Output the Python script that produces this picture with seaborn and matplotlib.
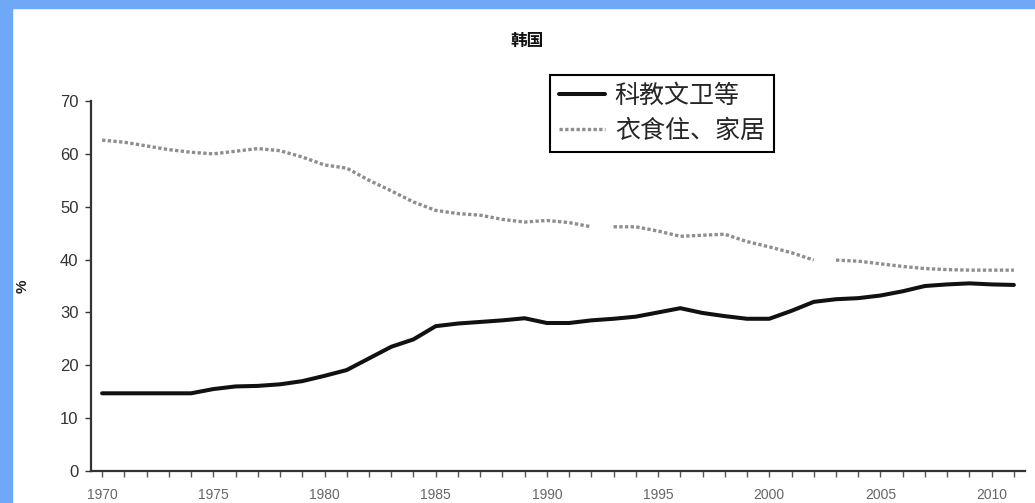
import matplotlib
matplotlib.use("Agg")
import matplotlib.pyplot as plt
from matplotlib.patches import Rectangle
import pandas as pd
import seaborn as sns

# Data
YEARS = list(range(1970, 2012))
SCI_EDU = [14.7, 14.7, 14.7, 14.7, 14.7, 15.5, 16.0, 16.1, 16.4, 17.0,
           18.0, 19.1, 21.3, 23.5, 24.9, 27.4, 27.9, 28.2, 28.5, 28.9,
           28.0, 28.0, 28.5, 28.8, 29.2, 30.0, 30.8, 29.9, 29.3, 28.8,
           28.8, 30.3, 32.0, 32.5, 32.7, 33.2, 34.0, 35.0, 35.3, 35.5,
           35.3, 35.2]
FOOD_HOME = [62.6, 62.2, 61.5, 60.8, 60.3, 60.0, 60.5, 61.0, 60.6, 59.4,
             57.9, 57.3, 55.0, 53.0, 50.9, 49.3, 48.7, 48.4, 47.6, 47.1,
             47.4, 47.0, 46.2, 46.2, 46.2, 45.4, 44.4, 44.6, 44.8, 43.4,
             42.4, 41.3, 39.9, 39.9, 39.7, 39.2, 38.7, 38.3, 38.1, 38.0,
             38.0, 38.0]
# the grey series is drawn broken between these years and the next one
FOOD_BREAKS = [1992, 2002]

LABEL_SCI = "科教文卫等"
LABEL_FOOD = "衣食住、家居"
TITLE = "韩国"
YLABEL = "%"

C_BLACK = "#111111"
C_GREY = "#8e8e8e"
C_FRAME = "#6fa8f7"

sns.set_theme(style="white")
plt.rcParams["font.family"] = ["Liberation Sans", "Noto Sans CJK SC", "DejaVu Sans"]

df = pd.DataFrame({"year": YEARS, "sci": SCI_EDU, "food": FOOD_HOME})
seg = [0] * len(YEARS)
k = 0
for i, y in enumerate(YEARS):
    seg[i] = k
    if y in FOOD_BREAKS:
        k += 1
df["seg"] = seg

fig = plt.figure(figsize=(10.35, 5.03), dpi=100)
fig.patch.set_facecolor("white")
fig.patches.append(Rectangle((0, 1 - 8 / 503), 1, 8 / 503, transform=fig.transFigure,
                             color=C_FRAME, zorder=0))
fig.patches.append(Rectangle((0, 0), 12 / 1035, 1, transform=fig.transFigure,
                             color=C_FRAME, zorder=0))

ax = fig.add_axes([91 / 1035, 32 / 503, 934 / 1035, 370 / 503])

sns.lineplot(data=df, x="year", y="sci", ax=ax, color=C_BLACK, linewidth=2.9,
             label=LABEL_SCI)
for s, part in df.groupby("seg"):
    sns.lineplot(data=part, x="year", y="food", ax=ax, color=C_GREY,
                 linewidth=2.4, linestyle=(0, (1.0, 0.7)),
                 label=LABEL_FOOD if s == 0 else "_nolegend_")

ax.set_xlim(1969.5, 2011.5)
ax.set_ylim(0, 70)
ax.set_yticks(range(0, 71, 10))
ax.set_xticks(YEARS, minor=True)
ax.set_xticks(range(1970, 2011, 5))
ax.tick_params(axis="y", direction="out", length=4, width=1, color="#333333",
               labelsize=12, labelcolor="#333333", pad=5, left=True)
ax.tick_params(axis="x", which="both", direction="out", length=4, width=1,
               color="#555555", bottom=True)
ax.tick_params(axis="x", labelsize=10, labelcolor="#666666", pad=8)

for side in ["top", "right"]:
    ax.spines[side].set_visible(False)
for side in ["left", "bottom"]:
    ax.spines[side].set_color("#333333")
    ax.spines[side].set_linewidth(1.6)

ax.set_xlabel("")
ax.set_ylabel(YLABEL, fontsize=11, color="#222222", rotation=90, fontweight="bold")
ax.yaxis.set_label_coords(-(91 - 30) / 934, 0.5)

fig.text(527 / 1035, 1 - 41 / 503, TITLE, ha="center", va="center",
         fontsize=12, fontweight="bold", color="#111111")

h, l = ax.get_legend_handles_labels()
leg = ax.legend(h, l, loc="upper left", bbox_to_anchor=((550 - 91) / 934, (471 - 75) / 370),
                borderaxespad=0, fontsize=18, frameon=True, fancybox=False,
                framealpha=1, edgecolor="black", handlelength=1.85,
                handletextpad=0.38, borderpad=0.36, labelspacing=0.42)
leg.get_frame().set_linewidth(1.5)

fig.savefig("out.png", dpi=100)
